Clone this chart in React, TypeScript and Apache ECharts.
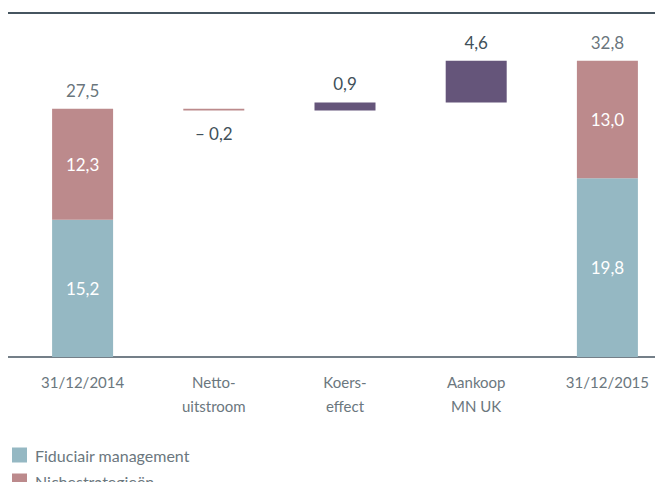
import React, { useEffect, useRef } from "react";
import * as echarts from "echarts";

const categories = ["31/12/2014", "Netto-\nuitstroom", "Koers-\neffect", "Aankoop\nMN UK", "31/12/2015"];
const fiduciair = [15.2, "-", "-", "-", 19.8];
const niche = [12.3, "-", "-", "-", 13.0];
const totals = [27.5, "-", "-", "-", 32.8];
const changeBase = ["-", 27.3, 27.3, 28.2, "-"];
const changes = ["-", -0.2, 0.9, 4.6, "-"];
const legendNames = ["Fiduciair management", "Nichestrategieën"];

const BLUE = "#95b8c3";
const PINK = "#bc8a8c";
const PURPLE = "#65557a";
const DARK = "#415059";
const GREY = "#6b777e";
const FONT = "Lato, 'Open Sans', sans-serif";

const fmt = (v: number) => (v < 0 ? "– " : "") + Math.abs(v).toFixed(1).replace(".", ",");

const legendBase = {
  left: 12,
  orient: "vertical",
  itemWidth: 15,
  itemHeight: 15,
  icon: "rect",
  selectedMode: false,
  padding: 0,
  textStyle: { color: GREY, fontSize: 16, fontFamily: FONT, padding: [0, 0, 0, 3] },
};

export default function App() {
  const ref = useRef<HTMLDivElement>(null);
  useEffect(() => {
    const chart = echarts.init(ref.current!, null, { renderer: "svg" });
    chart.setOption({
      animation: false,
      textStyle: { fontFamily: FONT },
      grid: { left: 17, right: 0, top: 41, bottom: 133, containLabel: false },
      legend: [
        { ...legendBase, top: 447, data: [legendNames[0]] },
        { ...legendBase, top: 473, data: [legendNames[1]] },
      ],
      xAxis: {
        type: "category",
        data: categories,
        axisLine: { show: false },
        axisTick: { show: false },
        axisLabel: { color: GREY, fontSize: 15, lineHeight: 24, margin: 13, fontFamily: FONT, interval: 0 },
      },
      yAxis: { type: "value", min: 0, max: 35, show: false, splitLine: { show: false } },
      graphic: [
        { type: "line", shape: { x1: 8, y1: 13, x2: 663, y2: 13 }, style: { stroke: "#465560", lineWidth: 2 } },
        { type: "line", shape: { x1: 8, y1: 357, x2: 663, y2: 357 }, style: { stroke: "#465560", lineWidth: 1.5 } },
      ],
      series: [
        {
          name: legendNames[0],
          type: "bar",
          stack: "a",
          barWidth: 61,
          data: fiduciair,
          itemStyle: { color: BLUE },
          label: { show: true, position: "inside", color: "#fff", fontSize: 17, fontFamily: FONT, formatter: (p: any) => fmt(p.value) },
        },
        {
          name: legendNames[1],
          type: "bar",
          stack: "a",
          barWidth: 61,
          data: niche,
          itemStyle: { color: PINK },
          label: { show: true, position: "inside", color: "#fff", fontSize: 17, fontFamily: FONT, formatter: (p: any) => fmt(p.value) },
        },
        {
          name: "base",
          type: "bar",
          stack: "a",
          barWidth: 61,
          data: changeBase,
          itemStyle: { color: "transparent" },
          silent: true,
        },
        {
          name: "change",
          type: "bar",
          stack: "a",
          barWidth: 61,
          data: changes.map((v) =>
            v === "-"
              ? "-"
              : (v as number) < 0
              ? {
                  value: Math.abs(v as number),
                  raw: v,
                  itemStyle: { color: PINK },
                  label: { position: "bottom", distance: 14 },
                }
              : { value: v, raw: v, itemStyle: { color: PURPLE } }
          ),
          label: {
            show: true,
            position: "top",
            distance: 10,
            color: DARK,
            fontSize: 17,
            fontFamily: FONT,
            formatter: (p: any) => fmt(p.data.raw),
          },
        },
        {
          name: "total",
          type: "scatter",
          symbolSize: 0,
          data: totals,
          label: {
            show: true,
            position: "top",
            distance: 10,
            color: DARK,
            fontSize: 17,
            fontFamily: FONT,
            formatter: (p: any) => fmt(p.value),
          },
        },
      ],
    });
    return () => chart.dispose();
  }, []);
  return (
    <div style={{ width: 663, height: 490, margin: -8, overflow: "hidden", position: "relative" }}>
      <div ref={ref} style={{ width: 673, height: 490 }} />
    </div>
  );
}
